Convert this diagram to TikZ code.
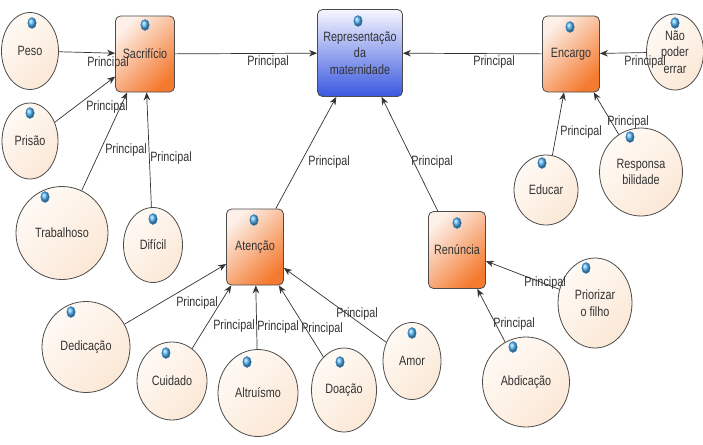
\documentclass[tikz,border=0pt]{standalone}
\usepackage{fontspec}
\setmainfont{Liberation Sans}[FakeStretch=0.8]
\usetikzlibrary{shapes.geometric,arrows.meta}
\definecolor{boxlight}{HTML}{FDF0E8}
\definecolor{boxdark}{HTML}{F47A30}
\definecolor{replight}{HTML}{F6F6FF}
\definecolor{repdark}{HTML}{3A58E0}
\definecolor{elight}{HTML}{FFFAF5}
\definecolor{edark}{HTML}{FBE8D6}
\definecolor{dotblue}{HTML}{55B6F5}
\definecolor{dotedge}{HTML}{2F7FC4}
\newcommand{\fs}{\fontsize{13.5}{16.5}\selectfont}
\begin{document}
\begin{tikzpicture}[x=1pt,y=-1pt,
  box/.style={rectangle, rounded corners=5pt, draw=black!70, line width=0.8pt,
    top color=boxlight, bottom color=boxdark, shading angle=45,
    minimum width=57pt, minimum height=76pt, inner sep=0pt, align=center,
    font=\fs, text=black!80},
  repbox/.style={box, top color=replight, bottom color=repdark},
  concept/.style={ellipse, draw=black!70, line width=0.8pt,
    top color=elight, bottom color=edark, shading angle=45,
    inner sep=0pt, align=center, font=\fs, text=black!80},
  bluedot/.style={ellipse, minimum width=8.5pt, minimum height=11pt, inner sep=0pt,
    ball color=dotblue, draw=dotedge, line width=0.4pt},
  link/.style={draw=black!80, line width=0.7pt, -{Stealth[length=8pt,width=6.5pt]}},
  lbl/.style={font=\fs, inner sep=0pt, text=black!80}]
\useasboundingbox (0,0) rectangle (703,444);
\fill[white] (0,0) rectangle (703,444);

% main boxes
\node[repbox, minimum width=85pt, minimum height=87pt] (rep) at (360,53) {Representação\\da\\maternidade};
\node[box, minimum width=59pt] (sac) at (145,54) {Sacrifício};
\node[box] (enc) at (571,54) {Encargo};
\node[box] (ate) at (255,247) {Atenção};
\node[box, minimum height=77pt] (ren) at (457,250) {Renúncia};

% concepts
\node[concept, minimum width=57pt, minimum height=77pt] (peso) at (30,51) {Peso};
\node[concept, minimum width=56pt, minimum height=76pt] (pri) at (30,141) {Prisão};
\node[concept, minimum width=92pt, minimum height=93pt] (tra) at (62,233) {Trabalhoso};
\node[concept, minimum width=59pt, minimum height=75pt] (dif) at (153,245) {Difícil};
\node[concept, minimum width=57pt, minimum height=76pt] (nao) at (675,52) {Não\\poder\\errar};
\node[concept, minimum width=64pt, minimum height=70pt] (edu) at (546,190) {Educar};
\node[concept, minimum width=83pt, minimum height=88pt] (res) at (641,172) {Responsa\\bilidade};
\node[concept, minimum width=74pt, minimum height=90pt] (prio) at (595,303) {Priorizar\\o filho};
\node[concept, minimum width=87pt, minimum height=90pt] (abd) at (526,382) {Abdicação};
\node[concept, minimum width=88pt, minimum height=91pt] (ded) at (86,347) {Dedicação};
\node[concept, minimum width=70pt, minimum height=78pt] (cui) at (172,381) {Cuidado};
\node[concept, minimum width=80pt, minimum height=87pt] (alt) at (258,393) {Altruísmo};
\node[concept, minimum width=65pt, minimum height=84pt] (doa) at (344,390) {Doação};
\node[concept, minimum width=58pt, minimum height=77pt] (amo) at (412,361) {Amor};

% connectors
\draw[link] (peso) -- (sac);
\draw[link] (pri) -- (sac);
\draw[link] (tra) -- (sac);
\draw[link] (dif) -- (sac);
\draw[link] (sac) -- (rep);
\draw[link] (nao) -- (enc);
\draw[link] (enc) -- (rep);
\draw[link] (edu) -- (enc);
\draw[link] (res) -- (enc);
\draw[link] (ate) -- (rep);
\draw[link] (ren) -- (rep);
\draw[link] (prio) -- (ren);
\draw[link] (abd) -- (ren);
\draw[link] (ded) -- (ate);
\draw[link] (cui) -- (ate);
\draw[link] (alt) -- (ate);
\draw[link] (doa) -- (ate);
\draw[link] (amo) -- (ate);

% blue dots
\node[bluedot] (d1) at (32,23) {};
\node[bluedot] (d2) at (30,113) {};
\node[bluedot] (d3) at (145,25) {};
\node[bluedot] (d4) at (358,21) {};
\node[bluedot] (d5) at (570,27) {};
\node[bluedot] (d6) at (675,23) {};
\node[bluedot] (d7) at (542,163) {};
\node[bluedot] (d8) at (630,137) {};
\node[bluedot] (d9) at (45,197) {};
\node[bluedot] (d10) at (153,219) {};
\node[bluedot] (d11) at (254,220) {};
\node[bluedot] (d12) at (457,223) {};
\node[bluedot] (d13) at (586,268) {};
\node[bluedot] (d14) at (513,347) {};
\node[bluedot] (d15) at (71,312) {};
\node[bluedot] (d16) at (166,353) {};
\node[bluedot] (d17) at (247,362) {};
\node[bluedot] (d18) at (340,362) {};
\node[bluedot] (d19) at (412,333) {};

% labels
\node[lbl] (l1) at (108,63) {Principal};
\node[lbl] (l2) at (107,107) {Principal};
\node[lbl] (l3) at (126,150) {Principal};
\node[lbl] (l4) at (171,158) {Principal};
\node[lbl] (l5) at (268,62) {Principal};
\node[lbl] (l6) at (645,62) {Principal};
\node[lbl] (l7) at (494,62) {Principal};
\node[lbl] (l8) at (581,132) {Principal};
\node[lbl] (l9) at (628,122) {Principal};
\node[lbl] (l10) at (329,162) {Principal};
\node[lbl] (l11) at (432,162) {Principal};
\node[lbl] (l12) at (545,283) {Principal};
\node[lbl] (l13) at (514,324) {Principal};
\node[lbl] (l14) at (197,303) {Principal};
\node[lbl] (l15) at (234,326) {Principal};
\node[lbl] (l16) at (278,327) {Principal};
\node[lbl] (l17) at (322,329) {Principal};
\node[lbl] (l18) at (357,314) {Principal};
\end{tikzpicture}
\end{document}
